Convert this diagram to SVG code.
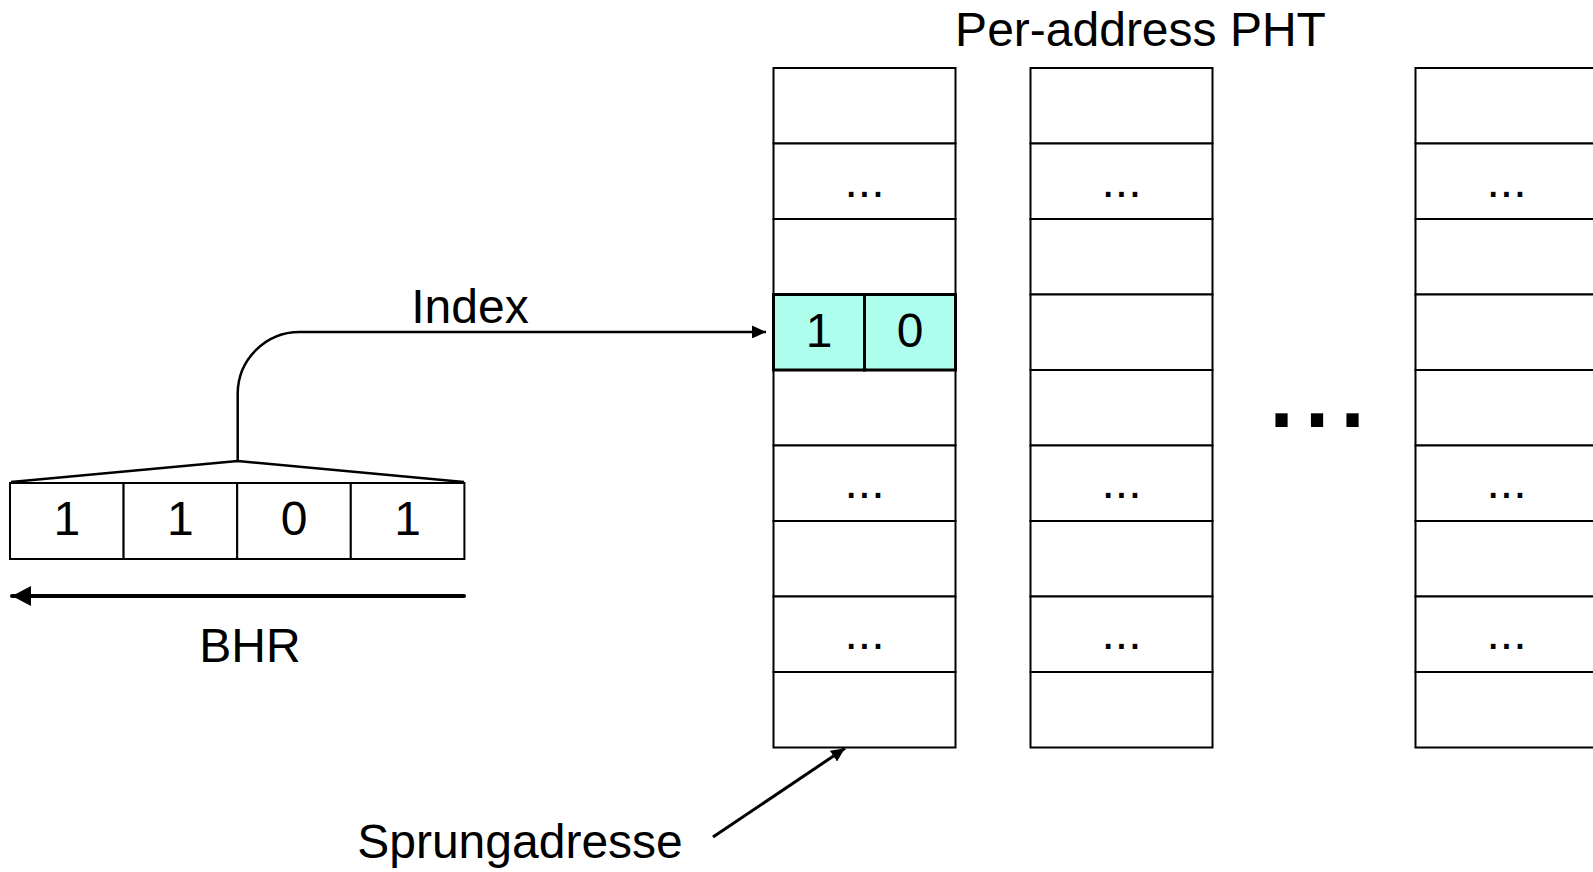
<svg xmlns="http://www.w3.org/2000/svg" width="1593" height="872" viewBox="0 0 1593 872">
  <style>
    text { font-family: "Liberation Sans", Arial, sans-serif; fill: #000; }
    .lbl { font-size: 48px; }
    .mid { text-anchor: middle; }
    .cell { fill: #fff; stroke: #000; stroke-width: 2; }
    .hl { fill: #adfeec; stroke: #000; stroke-width: 3; }
    .wire { fill: none; stroke: #000; stroke-width: 2.5; }
  </style>
  <defs>
    <marker id="headSmall" markerUnits="userSpaceOnUse" viewBox="0 0 14 13" refX="14" refY="6.5" markerWidth="14" markerHeight="13" orient="auto">
      <path d="M0,0 L14,6.5 L0,13 Z" fill="#000"/>
    </marker>
    <marker id="headBig" markerUnits="userSpaceOnUse" viewBox="0 0 19 20" refX="19" refY="10" markerWidth="19" markerHeight="20" orient="auto">
      <path d="M0,0 L19,10 L0,20 Z" fill="#000"/>
    </marker>
    <!-- one PHT column: 9 rows of 75.5 px -->
    <g id="phtRows">
      <rect class="cell" x="0" y="0" width="182" height="75.5"/>
      <rect class="cell" x="0" y="75.5" width="182" height="75.5"/>
      <rect class="cell" x="0" y="151" width="182" height="75.5"/>
      <rect class="cell" x="0" y="226.5" width="182" height="75.5"/>
      <rect class="cell" x="0" y="302" width="182" height="75.5"/>
      <rect class="cell" x="0" y="377.5" width="182" height="75.5"/>
      <rect class="cell" x="0" y="453" width="182" height="75.5"/>
      <rect class="cell" x="0" y="528.5" width="182" height="75.5"/>
      <rect class="cell" x="0" y="604" width="182" height="75.5"/>
      <text class="lbl mid" x="91" y="128.5">...</text>
      <text class="lbl mid" x="91" y="430">...</text>
      <text class="lbl mid" x="91" y="581">...</text>
    </g>
  </defs>

  <text id="title" class="lbl mid" x="1140.5" y="46">Per-address PHT</text>

  <g id="pht1">
    <use href="#phtRows" x="773.5" y="68"/>
    <rect class="hl" x="773.5" y="294.5" width="91" height="75.5"/>
    <rect class="hl" x="864.5" y="294.5" width="91" height="75.5"/>
    <text class="lbl mid" x="819" y="347">1</text>
    <text class="lbl mid" x="910" y="347">0</text>
  </g>

  <g id="pht2">
    <use href="#phtRows" x="1030.5" y="68"/>
  </g>

  <g id="pht3">
    <use href="#phtRows" x="1415.5" y="68"/>
  </g>

  <g id="moreTables">
    <text class="mid" x="1317" y="427" style="font-size:128px">...</text>
  </g>

  <g id="bhr">
    <rect class="cell" x="10" y="483" width="113.6" height="76"/>
    <rect class="cell" x="123.6" y="483" width="113.6" height="76"/>
    <rect class="cell" x="237.2" y="483" width="113.6" height="76"/>
    <rect class="cell" x="350.8" y="483" width="113.6" height="76"/>
    <text class="lbl mid" x="66.8" y="535">1</text>
    <text class="lbl mid" x="180.4" y="535">1</text>
    <text class="lbl mid" x="294" y="535">0</text>
    <text class="lbl mid" x="407.6" y="535">1</text>
    <text class="lbl mid" x="250" y="662">BHR</text>
  </g>

  <g id="connectors">
    <!-- fan-in of the history bits -->
    <path class="wire" d="M11,482 L237.7,461 L464,482"/>
    <!-- index into the table -->
    <path class="wire" d="M237.7,461 V394 A62,62 0 0 1 299.7,332 H766" marker-end="url(#headSmall)"/>
    <text class="lbl mid" x="470" y="323">Index</text>
    <!-- shift direction -->
    <path d="M464,596 H12" fill="none" stroke="#000" stroke-width="4" stroke-linecap="round" marker-end="url(#headBig)"/>
    <!-- branch address selects the table -->
    <path d="M713,837 L845,748.3" fill="none" stroke="#000" stroke-width="3" marker-end="url(#headSmall)"/>
    <text class="lbl mid" x="520" y="858">Sprungadresse</text>
  </g>
</svg>
